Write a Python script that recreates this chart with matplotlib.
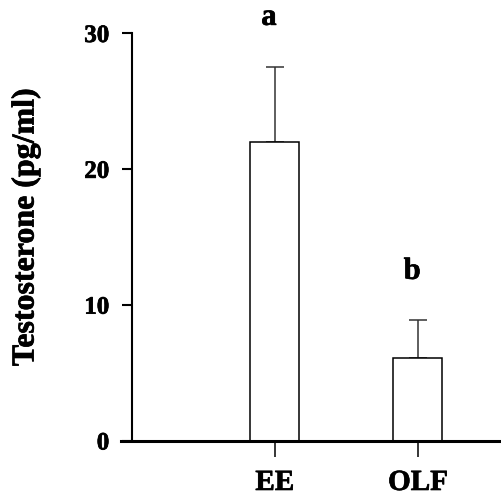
import matplotlib
matplotlib.use("Agg")
import matplotlib.pyplot as plt
import matplotlib.patheffects as pe

categories = ["EE", "OLF"]
means = [22.0, 6.1]
errors = [5.5, 2.8]
letters = ["a", "b"]
letter_y = [30.6, 11.9]
yticks = [0, 10, 20, 30]

plt.rcParams['font.family'] = ['Liberation Serif', 'DejaVu Serif']
plt.rcParams['font.weight'] = 'bold'

heavy = [pe.withStroke(linewidth=0.5, foreground='black')]

fig = plt.figure(figsize=(5.01, 5.02), dpi=100)
ax = fig.add_axes([131.5/501, 1-441.5/502, 1-131.5/501, (441.5-34)/502])

pos = [1, 2]
ax.bar(pos, means, width=0.342, color='white', edgecolor='black', linewidth=1.1, zorder=2)
ax.errorbar(pos, means, yerr=[[0, 0], errors], fmt='none', ecolor='#333333',
            elinewidth=1.1, capsize=6.5, capthick=1.1, zorder=1)

for p, l, ly in zip(pos, letters, letter_y):
    ax.text(p - 0.04, ly, l, ha='center', va='baseline', fontsize=22, fontweight='bold',
            clip_on=False, path_effects=heavy)

ax.set_xlim(0, 2.58)
ax.set_ylim(0, 30)
ax.set_yticks(yticks)
ax.set_yticklabels([str(t) for t in yticks], fontsize=18, fontweight='bold')
ax.set_xticks(pos)
ax.set_xticklabels(categories, fontsize=21, fontweight='bold')
for t in ax.get_xticklabels() + ax.get_yticklabels():
    t.set_path_effects(heavy)

for s in ['top', 'right']:
    ax.spines[s].set_visible(False)
ax.spines['left'].set_linewidth(1.5)
ax.spines['bottom'].set_linewidth(2.2)
ax.spines['bottom'].set_bounds(-0.075, 2.58)

ax.tick_params(axis='y', direction='out', length=7, width=1.5, pad=9)
ax.tick_params(axis='x', direction='out', length=11.5, width=1.1, pad=9)

fig.text(26/501, 1-228/502, "Testosterone (pg/ml)", rotation=90, ha='center', va='center',
         fontsize=23, fontweight='bold', path_effects=heavy)

fig.savefig("out.png", dpi=100)
